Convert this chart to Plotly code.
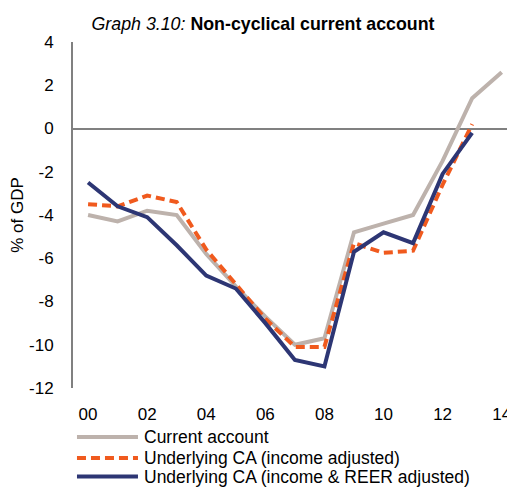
import plotly.graph_objects as go

# años (eje x) y etiquetas
years = [2000, 2001, 2002, 2003, 2004, 2005, 2006, 2007, 2008, 2009, 2010, 2011, 2012, 2013, 2014]
tick_years = [2000, 2002, 2004, 2006, 2008, 2010, 2012, 2014]
tick_labels = ["00", "02", "04", "06", "08", "10", "12", "14"]
y_ticks = [4, 2, 0, -2, -4, -6, -8, -10, -12]
y_tick_labels = ["4", "2", "0", "-2", "-4", "-6", "-8", "-10", "-12"]

current_account = [-4.0, -4.3, -3.8, -4.0, -5.8, -7.3, -8.7, -10.0, -9.7, -4.8, -4.4, -4.0, -1.5, 1.4, 2.6]
underlying_income = [-3.5, -3.6, -3.1, -3.4, -5.6, -7.2, -8.8, -10.1, -10.1, -5.3, -5.75, -5.65, -2.6, 0.2, None]
underlying_income_reer = [-2.5, -3.6, -4.1, -5.4, -6.8, -7.4, -9.0, -10.7, -11.0, -5.7, -4.8, -5.3, -2.1, -0.2, None]

series_names = [
    "Current account",
    "Underlying CA (income adjusted)",
    "Underlying CA (income & REER adjusted)",
]
series_colors = ["#BDB2AC", "#F05A1E", "#2D3674"]
series_dash = ["solid", "9px,5px", "solid"]

FONT = "Liberation Sans, Arial, sans-serif"

fig = go.Figure()
for vals, name, color, dash in zip(
    [current_account, underlying_income, underlying_income_reer],
    series_names, series_colors, series_dash,
):
    fig.add_trace(go.Scatter(
        x=years, y=vals, name=name, mode="lines",
        line=dict(color=color, width=4, dash=dash),
        showlegend=False,
    ))

# leyenda manual (líneas largas como en el original)
legend_rows = [-0.1416, -0.202, -0.256]
for name, color, dash, yy in zip(series_names, series_colors, series_dash, legend_rows):
    fig.add_shape(
        type="line", xref="paper", yref="paper",
        x0=0.009, x1=0.147, y0=yy, y1=yy,
        line=dict(color=color, width=4, dash=dash),
    )
    fig.add_annotation(
        xref="paper", yref="paper", x=0.158, y=yy,
        text=name, showarrow=False, xanchor="left", yanchor="middle",
        borderpad=0,
        font=dict(size=17.5, color="#000000", family=FONT),
    )

# el body de la página añade 8px de margen: figura de 507x479
fig.update_layout(
    width=507,
    height=479,
    margin=dict(l=65, r=0, t=34, b=99),
    paper_bgcolor="white",
    plot_bgcolor="white",
    font=dict(family=FONT, size=17, color="#000000"),
    title=dict(
        text="<i>Graph 3.10:</i> <b>Non-cyclical current account</b>",
        x=0.503, xanchor="center",
        y=0.967, yanchor="middle",
        font=dict(size=17.8, family=FONT, color="#000000"),
    ),
)
fig.update_xaxes(
    range=[1999.49, 2014.45],
    tickvals=tick_years,
    ticktext=tick_labels,
    showgrid=False,
    showline=False,
    zeroline=False,
    ticks="",
    ticklabelstandoff=14,
    tickfont=dict(size=17, family=FONT),
)
fig.update_yaxes(
    range=[-12, 4],
    tickvals=y_ticks,
    ticktext=y_tick_labels,
    showgrid=False,
    zeroline=True,
    zerolinecolor="#808080",
    zerolinewidth=2,
    showline=True,
    linecolor="#808080",
    linewidth=2,
    ticks="",
    ticklabelstandoff=14,
    tickfont=dict(size=17, family=FONT),
    title=dict(text="% of GDP", font=dict(size=17, family=FONT), standoff=7),
)

fig.write_html("out.html")
